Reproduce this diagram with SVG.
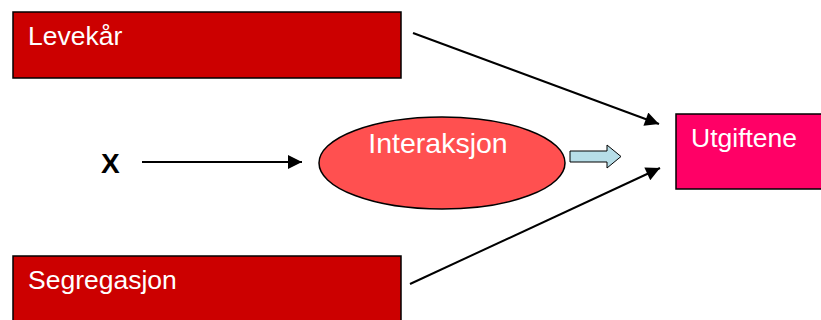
<svg xmlns="http://www.w3.org/2000/svg" width="821" height="320" viewBox="0 0 821 320">
<style>
.box{fill:#CC0000;stroke:#000;stroke-width:1.5}
.lbl{font-family:"Liberation Sans",Arial,sans-serif;fill:#fff;font-size:26.5px}
.conn{stroke:#000;stroke-width:2;fill:none}
</style>
<defs>
<marker id="ah" viewBox="0 0 10 10" refX="10" refY="5" markerWidth="7.5" markerHeight="7" markerUnits="strokeWidth" orient="auto">
<path d="M0,0 L10,5 L0,10 z" fill="#000"/>
</marker>
</defs>
<rect width="821" height="320" fill="#fff"/>
<g id="levekar">
<rect class="box" x="13" y="12" width="388" height="66"/>
<text class="lbl" x="28" y="45">Levekår</text>
</g>
<g id="segregasjon">
<rect class="box" x="13" y="256" width="388" height="70"/>
<text class="lbl" x="28" y="289">Segregasjon</text>
</g>
<g id="x">
<text x="101" y="173" style="font-family:'Liberation Sans',Arial,sans-serif;font-weight:bold;font-size:28px" fill="#000">X</text>
</g>
<g id="interaksjon">
<ellipse cx="442" cy="163" rx="123" ry="46" fill="#FF5050" stroke="#000" stroke-width="1.5"/>
<text class="lbl" x="438" y="153" text-anchor="middle" style="font-size:28.5px">Interaksjon</text>
</g>
<g id="utgiftene">
<rect x="676" y="114" width="150" height="75" fill="#FF0066" stroke="#000" stroke-width="1.5"/>
<text class="lbl" x="691" y="147">Utgiftene</text>
</g>
<g id="connectors">
<line class="conn" x1="142" y1="162" x2="302" y2="162" marker-end="url(#ah)"/>
<line class="conn" x1="413" y1="33" x2="659" y2="124" marker-end="url(#ah)"/>
<line class="conn" x1="410" y1="284" x2="660" y2="168" marker-end="url(#ah)"/>
<path d="M570,151 L607,151 L607,145 L621,156.5 L607,168 L607,162 L570,162 z" fill="#B7DEE8" stroke="#000" stroke-width="1"/>
</g>
</svg>
